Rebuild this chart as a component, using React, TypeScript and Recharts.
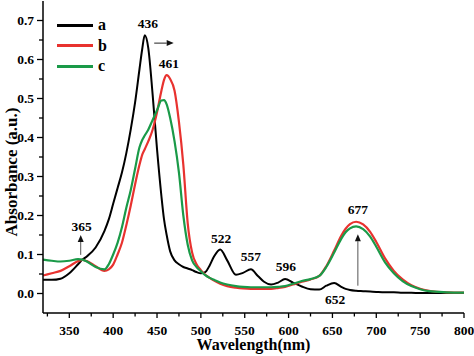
import { Legend, Line, LineChart, ReferenceDot, ReferenceLine, XAxis, YAxis } from 'recharts'

const wavelengths = [
  320, 330, 340, 350, 360, 365, 370, 380, 390, 395, 400, 405, 410, 415, 420, 425, 430, 433, 436, 440,
  445, 450, 455, 458, 461, 465, 470, 475, 480, 485, 490, 495, 500, 505, 510, 515, 522, 530, 540, 548,
  557, 565, 572, 580, 588, 596, 605, 615, 625, 635, 643, 652, 660, 665, 670, 677, 685, 693, 700, 710,
  720, 730, 740, 750, 760, 780, 800,
]

const absA = [
  0.035, 0.035, 0.038, 0.052, 0.075, 0.087, 0.095, 0.118, 0.16, 0.19, 0.23, 0.27, 0.31, 0.36, 0.42, 0.49, 0.575, 0.625, 0.662, 0.63,
  0.51, 0.37, 0.25, 0.19, 0.15, 0.108, 0.085, 0.075, 0.068, 0.064, 0.06, 0.055, 0.052, 0.055, 0.072, 0.095, 0.113, 0.085, 0.048, 0.053,
  0.062, 0.045, 0.03, 0.023, 0.028, 0.037, 0.028, 0.018, 0.011, 0.01, 0.02, 0.027, 0.017, 0.012, 0.009, 0.007, 0.006, 0.005, 0.004, 0.003,
  0.003, 0.002, 0.002, 0.001, 0.001, 0.001, 0.001,
]

const absB = [
  0.046, 0.052, 0.058, 0.07, 0.083, 0.086, 0.083, 0.07, 0.058, 0.062, 0.074, 0.1, 0.13, 0.175, 0.225, 0.28, 0.33, 0.355, 0.37, 0.39,
  0.42, 0.465, 0.52, 0.548, 0.56, 0.55, 0.52, 0.44, 0.33, 0.18, 0.105, 0.075, 0.06, 0.048, 0.04, 0.033, 0.025, 0.019, 0.015, 0.013,
  0.012, 0.012, 0.012, 0.012, 0.014, 0.017, 0.023, 0.03, 0.036, 0.045, 0.07, 0.11, 0.148, 0.166, 0.178, 0.184, 0.177, 0.158, 0.132, 0.09,
  0.058, 0.036, 0.021, 0.012, 0.007, 0.003, 0.002,
]

const absC = [
  0.087, 0.084, 0.082, 0.084, 0.088, 0.087, 0.082, 0.068, 0.062, 0.075, 0.1, 0.13, 0.17, 0.22, 0.265, 0.32, 0.375, 0.393, 0.405, 0.42,
  0.445, 0.47, 0.495, 0.496, 0.485, 0.45, 0.39, 0.31, 0.2, 0.125, 0.085, 0.068, 0.057, 0.047, 0.04, 0.035, 0.028, 0.023, 0.019, 0.017,
  0.016, 0.016, 0.016, 0.016, 0.017, 0.019, 0.025, 0.032, 0.037, 0.045, 0.068, 0.105, 0.14, 0.157, 0.167, 0.172, 0.165, 0.146, 0.12, 0.08,
  0.052, 0.032, 0.019, 0.011, 0.006, 0.003, 0.002,
]

const xTicks = [325, 350, 375, 400, 425, 450, 475, 500, 525, 550, 575, 600, 625, 650, 675, 700, 725, 750, 775, 800]
const xMajor = [350, 400, 450, 500, 550, 600, 650, 700, 750, 800]
const yTicks = [0, 0.05, 0.1, 0.15, 0.2, 0.25, 0.3, 0.35, 0.4, 0.45, 0.5, 0.55, 0.6, 0.65, 0.7]

const seriesNames = ['a', 'b', 'c']
const seriesKeys = ['a', 'b', 'c']
const seriesColors = ['#000000', '#e8322f', '#1a9a48']

// peak labels (text centre in data coords)
const peakText = ['436', '461', '365', '522', '557', '596', '652', '677']
const peakX = [439.5, 463.5, 364, 523, 557, 597, 653, 679]
const peakY = [0.692, 0.59, 0.173, 0.142, 0.094, 0.069, -0.015, 0.216]

const data = wavelengths.map((x, i) => ({ x, a: absA[i], b: absB[i], c: absC[i] }))

const FONT = '"Liberation Serif", "Times New Roman", serif'

function YTick({ x, y, payload }: any) {
  const v = payload.value as number
  const major = Math.round(v * 100) % 10 === 0
  const axisX = x + 9
  return (
    <g>
      <line x1={axisX - (major ? 6 : 4)} x2={axisX} y1={y} y2={y} stroke="#000" strokeWidth={1.3} />
      {major && (
        <text x={x} y={y} dy={4.6} textAnchor="end" fontFamily={FONT} fontWeight="bold" fontSize={13.5} fill="#000">
          {v.toFixed(1)}
        </text>
      )}
    </g>
  )
}

function XTick({ x, y, payload }: any) {
  const v = payload.value as number
  const major = xMajor.includes(v)
  const axisY = y - 11
  return (
    <g>
      <line x1={x} x2={x} y1={axisY} y2={axisY + (major ? 5 : 3.5)} stroke="#000" strokeWidth={1.3} />
      {major && (
        <text x={x} y={y} dy={10.5} textAnchor="middle" fontFamily={FONT} fontWeight="bold" fontSize={13.5} fill="#000">
          {v}
        </text>
      )}
    </g>
  )
}

function Arrow({ x1, y1, x2, y2, stroke }: any) {
  const ang = Math.atan2(y2 - y1, x2 - x1)
  const len = 7
  const w = 3
  const bx = x2 - len * Math.cos(ang)
  const by = y2 - len * Math.sin(ang)
  const px = -Math.sin(ang) * w
  const py = Math.cos(ang) * w
  return (
    <g>
      <line x1={x1} y1={y1} x2={bx} y2={by} stroke={stroke} strokeWidth={1} />
      <polygon points={`${x2},${y2} ${bx + px},${by + py} ${bx - px},${by - py}`} fill="#111" />
    </g>
  )
}

function LegendBox() {
  return (
    <div style={{ fontFamily: FONT, fontWeight: 'bold', fontSize: 16, color: '#000' }}>
      {seriesNames.map((n, i) => (
        <div key={n} style={{ display: 'flex', alignItems: 'center', height: 20.5 }}>
          <span style={{ display: 'inline-block', width: 36, height: 2.6, background: seriesColors[i], marginRight: 5 }} />
          <span>{n}</span>
        </div>
      ))}
    </div>
  )
}

export default function App() {
  return (
    <div style={{ position: 'absolute', left: 0, top: 0, background: '#fff' }}>
      <LineChart width={474} height={356} data={data} margin={{ top: 1, right: 10, left: 0, bottom: 0 }}>
        <XAxis
          dataKey="x"
          type="number"
          domain={[320, 800]}
          ticks={xTicks}
          allowDataOverflow
          interval={0}
          height={43}
          tickSize={5}
          tickMargin={6}
          tickLine={false}
          tick={<XTick />}
          axisLine={{ stroke: '#000', strokeWidth: 1.5 }}
          label={{
            content: ({ viewBox }: any) => (
              <text
                x={viewBox.x + viewBox.width / 2}
                y={viewBox.y + 37}
                textAnchor="middle"
                fontFamily={FONT}
                fontWeight="bold"
                fontSize={16}
                fill="#000"
              >
                Wavelength(nm)
              </text>
            ),
          }}
        />
        <XAxis xAxisId="top" orientation="top" type="number" domain={[320, 800]} height={0} tick={false} tickLine={false} axisLine={{ stroke: '#555', strokeWidth: 2 }} />
        <YAxis
          type="number"
          domain={[-0.05, 0.75]}
          ticks={yTicks}
          allowDataOverflow
          interval={0}
          width={43}
          tickSize={6}
          tickMargin={3}
          tickLine={false}
          tick={<YTick />}
          axisLine={{ stroke: '#000', strokeWidth: 1.5 }}
          label={{
            content: ({ viewBox }: any) => {
              const cx = viewBox.x + 16.5
              const cy = viewBox.y + viewBox.height / 2 + 15
              return (
                <text
                  x={cx}
                  y={cy}
                  transform={`rotate(-90 ${cx} ${cy})`}
                  textAnchor="middle"
                  fontFamily={FONT}
                  fontWeight="bold"
                  fontSize={17}
                  fill="#000"
                >
                  Absorbance (a.u.)
                </text>
              )
            },
          }}
        />
        <YAxis yAxisId="right" orientation="right" type="number" domain={[-0.05, 0.75]} width={0} tick={false} tickLine={false} axisLine={{ stroke: '#333', strokeWidth: 1.8 }} />
        <Legend
          layout="horizontal"
          verticalAlign="middle"
          align="center"
          content={() => <LegendBox />}
          wrapperStyle={{ top: 15, left: 57, width: 'auto', height: 'auto' }}
        />
        {seriesKeys.map((k, i) => (
          <Line
            key={k}
            dataKey={k}
            name={seriesNames[i]}
            type="monotone"
            stroke={seriesColors[i]}
            strokeWidth={i === 0 ? 2 : 2.2}
            dot={false}
            isAnimationActive={false}
          />
        ))}
        <ReferenceLine segment={[{ x: 446.8, y: 0.642 }, { x: 469, y: 0.642 }]} shape={(p: any) => <Arrow {...p} stroke="#222" />} />
        <ReferenceLine segment={[{ x: 363, y: 0.099 }, { x: 363, y: 0.15 }]} shape={(p: any) => <Arrow {...p} stroke="#555" />} />
        <ReferenceLine segment={[{ x: 679, y: 0.02 }, { x: 679, y: 0.152 }]} shape={(p: any) => <Arrow {...p} stroke="#555" />} />
        {peakText.map((t, i) => (
          <ReferenceDot
            key={t}
            x={peakX[i]}
            y={peakY[i]}
            r={0}
            shape={(p: any) => (
              <text x={p.cx} y={p.cy} dy={4.6} textAnchor="middle" fontFamily={FONT} fontWeight="bold" fontSize={13.5} fill="#000">
                {t}
              </text>
            )}
          />
        ))}
      </LineChart>
    </div>
  )
}
